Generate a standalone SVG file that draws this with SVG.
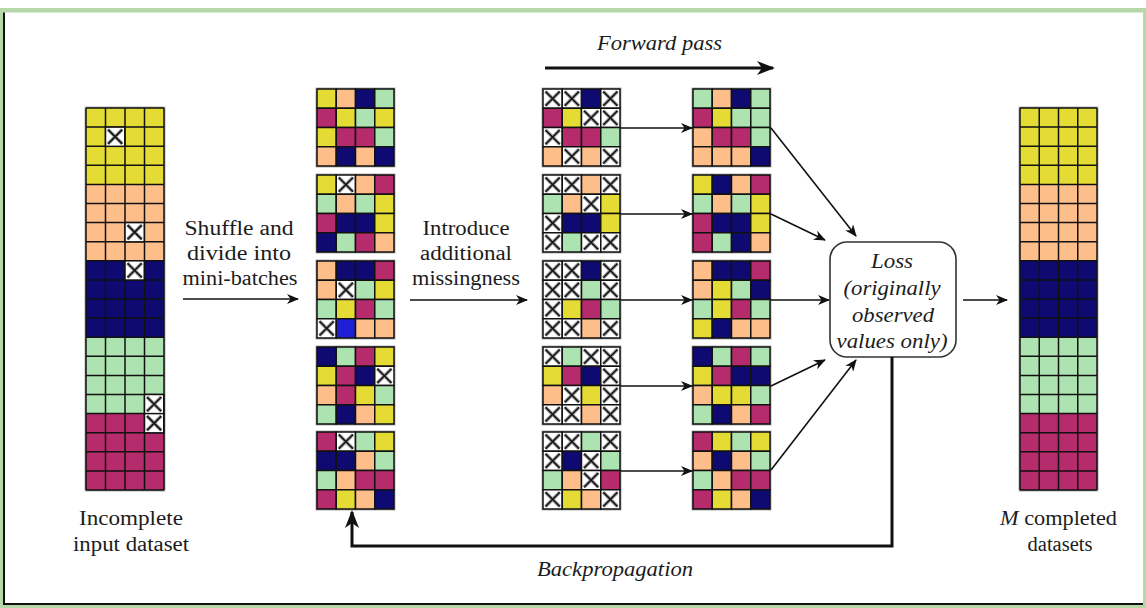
<svg xmlns="http://www.w3.org/2000/svg" xmlns:xlink="http://www.w3.org/1999/xlink" width="1146" height="608" viewBox="0 0 1146 608">
<style>
text{font-family:"Liberation Serif","Times New Roman",serif;font-size:20px;fill:#1c1c1c;text-anchor:middle}
.it{font-style:italic}
.ln{stroke:#111;stroke-width:1.6;fill:none}
.thk{stroke:#111;stroke-width:3;fill:none}
.halo{fill:none;stroke:#b0b0b0;stroke-width:3}
.gl{stroke:#111;stroke-width:1.5;fill:none}
</style>
<defs>
<rect id="Y" width="19.25" height="19.25" fill="#e4dc34" stroke="#111" stroke-width="1.5"/>
<rect id="O" width="19.25" height="19.25" fill="#fdbe8a" stroke="#111" stroke-width="1.5"/>
<rect id="N" width="19.25" height="19.25" fill="#0e0a72" stroke="#111" stroke-width="1.5"/>
<rect id="G" width="19.25" height="19.25" fill="#ade3b0" stroke="#111" stroke-width="1.5"/>
<rect id="M" width="19.25" height="19.25" fill="#b52b6b" stroke="#111" stroke-width="1.5"/>
<rect id="B" width="19.25" height="19.25" fill="#1f1fd6" stroke="#111" stroke-width="1.5"/>
<g id="X">
<rect width="19.25" height="19.25" fill="#fff" stroke="#111" stroke-width="1.5"/>
<path d="M2.5,2.5 L16.75,16.75 M16.75,2.5 L2.5,16.75" stroke="#9a9a9a" stroke-width="3.5"/>
<path d="M2.5,2.5 L16.75,16.75 M16.75,2.5 L2.5,16.75" stroke="#111" stroke-width="1.5"/>
</g>
<marker id="ah" viewBox="0 0 12 10" refX="11" refY="5" markerWidth="12" markerHeight="10" markerUnits="userSpaceOnUse" orient="auto">
<path d="M0,0 L12,5 L0,10 L3.5,5 z" fill="#111"/>
</marker>
<marker id="ahb" viewBox="0 0 18 14" refX="16" refY="7" markerWidth="18" markerHeight="14" markerUnits="userSpaceOnUse" orient="auto">
<path d="M0,0 L18,7 L0,14 L5,7 z" fill="#111"/>
</marker>
</defs>

<!-- frame -->
<rect x="0" y="8" width="1146" height="4.5" fill="#b6d7a8"/>
<rect x="0" y="8" width="3" height="600" fill="#b6d7a8"/>
<rect x="0" y="605" width="1146" height="3" fill="#b6d7a8"/>
<rect x="1143" y="8" width="3" height="600" fill="#b6d7a8"/>
<rect x="3" y="12.5" width="2" height="592.5" fill="#111"/>
<rect x="3" y="603" width="1140" height="2" fill="#111"/>

<!-- input dataset -->
<g id="input-dataset">
<rect class="halo" x="86" y="108" width="78" height="382"/>
<rect x="86" y="108" width="78" height="76.4" fill="#e4dc34"/>
<rect x="86" y="184.4" width="78" height="76.4" fill="#fdbe8a"/>
<rect x="86" y="260.8" width="78" height="76.4" fill="#0e0a72"/>
<rect x="86" y="337.2" width="78" height="76.4" fill="#ade3b0"/>
<rect x="86" y="413.6" width="78" height="76.4" fill="#b52b6b"/>
<path class="gl" d="M86,108V490M105.5,108V490M125,108V490M144.5,108V490M164,108V490M86,108H164M86,127.1H164M86,146.2H164M86,165.3H164M86,184.4H164M86,203.5H164M86,222.6H164M86,241.7H164M86,260.8H164M86,279.9H164M86,299H164M86,318.1H164M86,337.2H164M86,356.3H164M86,375.4H164M86,394.5H164M86,413.6H164M86,432.7H164M86,451.8H164M86,470.9H164M86,490H164"/>
<use href="#X" x="105.5" y="127.1"/>
<use href="#X" x="125" y="222.6"/>
<use href="#X" x="125" y="260.8"/>
<use href="#X" x="144.5" y="394.5"/>
<use href="#X" x="144.5" y="413.6"/>
<text x="131" y="525" textLength="104" lengthAdjust="spacingAndGlyphs">Incomplete</text>
<text x="131" y="551" textLength="116" lengthAdjust="spacingAndGlyphs">input dataset</text>
</g>

<!-- mini-batches -->
<g id="batch-1" transform="translate(317,89)">
<rect class="halo" width="77" height="77"/>
<use href="#Y" x="0" y="0"/><use href="#O" x="19.25" y="0"/><use href="#N" x="38.5" y="0"/><use href="#G" x="57.75" y="0"/>
<use href="#M" x="0" y="19.25"/><use href="#Y" x="19.25" y="19.25"/><use href="#G" x="38.5" y="19.25"/><use href="#Y" x="57.75" y="19.25"/>
<use href="#Y" x="0" y="38.5"/><use href="#M" x="19.25" y="38.5"/><use href="#M" x="38.5" y="38.5"/><use href="#G" x="57.75" y="38.5"/>
<use href="#O" x="0" y="57.75"/><use href="#N" x="19.25" y="57.75"/><use href="#O" x="38.5" y="57.75"/><use href="#N" x="57.75" y="57.75"/>
</g>
<g id="batch-2" transform="translate(317,175)">
<rect class="halo" width="77" height="77"/>
<use href="#Y" x="0" y="0"/><use href="#X" x="19.25" y="0"/><use href="#O" x="38.5" y="0"/><use href="#M" x="57.75" y="0"/>
<use href="#G" x="0" y="19.25"/><use href="#O" x="19.25" y="19.25"/><use href="#G" x="38.5" y="19.25"/><use href="#Y" x="57.75" y="19.25"/>
<use href="#M" x="0" y="38.5"/><use href="#N" x="19.25" y="38.5"/><use href="#N" x="38.5" y="38.5"/><use href="#Y" x="57.75" y="38.5"/>
<use href="#N" x="0" y="57.75"/><use href="#G" x="19.25" y="57.75"/><use href="#M" x="38.5" y="57.75"/><use href="#O" x="57.75" y="57.75"/>
</g>
<g id="batch-3" transform="translate(317,261)">
<rect class="halo" width="77" height="77"/>
<use href="#O" x="0" y="0"/><use href="#N" x="19.25" y="0"/><use href="#N" x="38.5" y="0"/><use href="#M" x="57.75" y="0"/>
<use href="#O" x="0" y="19.25"/><use href="#X" x="19.25" y="19.25"/><use href="#G" x="38.5" y="19.25"/><use href="#Y" x="57.75" y="19.25"/>
<use href="#G" x="0" y="38.5"/><use href="#Y" x="19.25" y="38.5"/><use href="#M" x="38.5" y="38.5"/><use href="#G" x="57.75" y="38.5"/>
<use href="#X" x="0" y="57.75"/><use href="#B" x="19.25" y="57.75"/><use href="#O" x="38.5" y="57.75"/><use href="#O" x="57.75" y="57.75"/>
</g>
<g id="batch-4" transform="translate(317,347)">
<rect class="halo" width="77" height="77"/>
<use href="#N" x="0" y="0"/><use href="#G" x="19.25" y="0"/><use href="#M" x="38.5" y="0"/><use href="#Y" x="57.75" y="0"/>
<use href="#Y" x="0" y="19.25"/><use href="#M" x="19.25" y="19.25"/><use href="#N" x="38.5" y="19.25"/><use href="#X" x="57.75" y="19.25"/>
<use href="#O" x="0" y="38.5"/><use href="#M" x="19.25" y="38.5"/><use href="#Y" x="38.5" y="38.5"/><use href="#G" x="57.75" y="38.5"/>
<use href="#G" x="0" y="57.75"/><use href="#N" x="19.25" y="57.75"/><use href="#O" x="38.5" y="57.75"/><use href="#Y" x="57.75" y="57.75"/>
</g>
<g id="batch-5" transform="translate(317,432)">
<rect class="halo" width="77" height="77"/>
<use href="#M" x="0" y="0"/><use href="#X" x="19.25" y="0"/><use href="#G" x="38.5" y="0"/><use href="#Y" x="57.75" y="0"/>
<use href="#N" x="0" y="19.25"/><use href="#N" x="19.25" y="19.25"/><use href="#O" x="38.5" y="19.25"/><use href="#G" x="57.75" y="19.25"/>
<use href="#G" x="0" y="38.5"/><use href="#O" x="19.25" y="38.5"/><use href="#M" x="38.5" y="38.5"/><use href="#M" x="57.75" y="38.5"/>
<use href="#M" x="0" y="57.75"/><use href="#Y" x="19.25" y="57.75"/><use href="#O" x="38.5" y="57.75"/><use href="#N" x="57.75" y="57.75"/>
</g>

<!-- additional missingness -->
<g id="masked-1" transform="translate(543,89)">
<rect class="halo" width="77" height="77"/>
<use href="#X" x="0" y="0"/><use href="#X" x="19.25" y="0"/><use href="#N" x="38.5" y="0"/><use href="#X" x="57.75" y="0"/>
<use href="#M" x="0" y="19.25"/><use href="#Y" x="19.25" y="19.25"/><use href="#X" x="38.5" y="19.25"/><use href="#X" x="57.75" y="19.25"/>
<use href="#X" x="0" y="38.5"/><use href="#M" x="19.25" y="38.5"/><use href="#M" x="38.5" y="38.5"/><use href="#G" x="57.75" y="38.5"/>
<use href="#O" x="0" y="57.75"/><use href="#X" x="19.25" y="57.75"/><use href="#O" x="38.5" y="57.75"/><use href="#X" x="57.75" y="57.75"/>
</g>
<g id="masked-2" transform="translate(543,175)">
<rect class="halo" width="77" height="77"/>
<use href="#X" x="0" y="0"/><use href="#X" x="19.25" y="0"/><use href="#O" x="38.5" y="0"/><use href="#X" x="57.75" y="0"/>
<use href="#G" x="0" y="19.25"/><use href="#O" x="19.25" y="19.25"/><use href="#X" x="38.5" y="19.25"/><use href="#Y" x="57.75" y="19.25"/>
<use href="#X" x="0" y="38.5"/><use href="#N" x="19.25" y="38.5"/><use href="#N" x="38.5" y="38.5"/><use href="#Y" x="57.75" y="38.5"/>
<use href="#X" x="0" y="57.75"/><use href="#G" x="19.25" y="57.75"/><use href="#X" x="38.5" y="57.75"/><use href="#X" x="57.75" y="57.75"/>
</g>
<g id="masked-3" transform="translate(543,261)">
<rect class="halo" width="77" height="77"/>
<use href="#X" x="0" y="0"/><use href="#X" x="19.25" y="0"/><use href="#N" x="38.5" y="0"/><use href="#X" x="57.75" y="0"/>
<use href="#X" x="0" y="19.25"/><use href="#X" x="19.25" y="19.25"/><use href="#G" x="38.5" y="19.25"/><use href="#X" x="57.75" y="19.25"/>
<use href="#X" x="0" y="38.5"/><use href="#Y" x="19.25" y="38.5"/><use href="#M" x="38.5" y="38.5"/><use href="#G" x="57.75" y="38.5"/>
<use href="#X" x="0" y="57.75"/><use href="#X" x="19.25" y="57.75"/><use href="#O" x="38.5" y="57.75"/><use href="#X" x="57.75" y="57.75"/>
</g>
<g id="masked-4" transform="translate(543,347)">
<rect class="halo" width="77" height="77"/>
<use href="#X" x="0" y="0"/><use href="#G" x="19.25" y="0"/><use href="#X" x="38.5" y="0"/><use href="#X" x="57.75" y="0"/>
<use href="#Y" x="0" y="19.25"/><use href="#M" x="19.25" y="19.25"/><use href="#N" x="38.5" y="19.25"/><use href="#X" x="57.75" y="19.25"/>
<use href="#O" x="0" y="38.5"/><use href="#X" x="19.25" y="38.5"/><use href="#Y" x="38.5" y="38.5"/><use href="#X" x="57.75" y="38.5"/>
<use href="#X" x="0" y="57.75"/><use href="#X" x="19.25" y="57.75"/><use href="#O" x="38.5" y="57.75"/><use href="#X" x="57.75" y="57.75"/>
</g>
<g id="masked-5" transform="translate(543,432)">
<rect class="halo" width="77" height="77"/>
<use href="#X" x="0" y="0"/><use href="#X" x="19.25" y="0"/><use href="#G" x="38.5" y="0"/><use href="#X" x="57.75" y="0"/>
<use href="#X" x="0" y="19.25"/><use href="#N" x="19.25" y="19.25"/><use href="#X" x="38.5" y="19.25"/><use href="#G" x="57.75" y="19.25"/>
<use href="#G" x="0" y="38.5"/><use href="#O" x="19.25" y="38.5"/><use href="#X" x="38.5" y="38.5"/><use href="#M" x="57.75" y="38.5"/>
<use href="#X" x="0" y="57.75"/><use href="#Y" x="19.25" y="57.75"/><use href="#O" x="38.5" y="57.75"/><use href="#X" x="57.75" y="57.75"/>
</g>

<!-- imputed outputs -->
<g id="imputed-1" transform="translate(693,89)">
<rect class="halo" width="77" height="77"/>
<use href="#G" x="0" y="0"/><use href="#O" x="19.25" y="0"/><use href="#N" x="38.5" y="0"/><use href="#G" x="57.75" y="0"/>
<use href="#M" x="0" y="19.25"/><use href="#Y" x="19.25" y="19.25"/><use href="#G" x="38.5" y="19.25"/><use href="#G" x="57.75" y="19.25"/>
<use href="#O" x="0" y="38.5"/><use href="#M" x="19.25" y="38.5"/><use href="#M" x="38.5" y="38.5"/><use href="#G" x="57.75" y="38.5"/>
<use href="#O" x="0" y="57.75"/><use href="#O" x="19.25" y="57.75"/><use href="#O" x="38.5" y="57.75"/><use href="#N" x="57.75" y="57.75"/>
</g>
<g id="imputed-2" transform="translate(693,175)">
<rect class="halo" width="77" height="77"/>
<use href="#Y" x="0" y="0"/><use href="#N" x="19.25" y="0"/><use href="#O" x="38.5" y="0"/><use href="#M" x="57.75" y="0"/>
<use href="#G" x="0" y="19.25"/><use href="#O" x="19.25" y="19.25"/><use href="#G" x="38.5" y="19.25"/><use href="#Y" x="57.75" y="19.25"/>
<use href="#M" x="0" y="38.5"/><use href="#N" x="19.25" y="38.5"/><use href="#N" x="38.5" y="38.5"/><use href="#Y" x="57.75" y="38.5"/>
<use href="#M" x="0" y="57.75"/><use href="#G" x="19.25" y="57.75"/><use href="#N" x="38.5" y="57.75"/><use href="#O" x="57.75" y="57.75"/>
</g>
<g id="imputed-3" transform="translate(693,261)">
<rect class="halo" width="77" height="77"/>
<use href="#O" x="0" y="0"/><use href="#N" x="19.25" y="0"/><use href="#N" x="38.5" y="0"/><use href="#M" x="57.75" y="0"/>
<use href="#O" x="0" y="19.25"/><use href="#Y" x="19.25" y="19.25"/><use href="#G" x="38.5" y="19.25"/><use href="#N" x="57.75" y="19.25"/>
<use href="#G" x="0" y="38.5"/><use href="#Y" x="19.25" y="38.5"/><use href="#M" x="38.5" y="38.5"/><use href="#G" x="57.75" y="38.5"/>
<use href="#Y" x="0" y="57.75"/><use href="#N" x="19.25" y="57.75"/><use href="#O" x="38.5" y="57.75"/><use href="#O" x="57.75" y="57.75"/>
</g>
<g id="imputed-4" transform="translate(693,347)">
<rect class="halo" width="77" height="77"/>
<use href="#N" x="0" y="0"/><use href="#G" x="19.25" y="0"/><use href="#M" x="38.5" y="0"/><use href="#G" x="57.75" y="0"/>
<use href="#Y" x="0" y="19.25"/><use href="#M" x="19.25" y="19.25"/><use href="#N" x="38.5" y="19.25"/><use href="#N" x="57.75" y="19.25"/>
<use href="#O" x="0" y="38.5"/><use href="#Y" x="19.25" y="38.5"/><use href="#Y" x="38.5" y="38.5"/><use href="#G" x="57.75" y="38.5"/>
<use href="#G" x="0" y="57.75"/><use href="#N" x="19.25" y="57.75"/><use href="#O" x="38.5" y="57.75"/><use href="#M" x="57.75" y="57.75"/>
</g>
<g id="imputed-5" transform="translate(693,432)">
<rect class="halo" width="77" height="77"/>
<use href="#M" x="0" y="0"/><use href="#Y" x="19.25" y="0"/><use href="#G" x="38.5" y="0"/><use href="#Y" x="57.75" y="0"/>
<use href="#O" x="0" y="19.25"/><use href="#N" x="19.25" y="19.25"/><use href="#O" x="38.5" y="19.25"/><use href="#G" x="57.75" y="19.25"/>
<use href="#G" x="0" y="38.5"/><use href="#O" x="19.25" y="38.5"/><use href="#M" x="38.5" y="38.5"/><use href="#M" x="57.75" y="38.5"/>
<use href="#M" x="0" y="57.75"/><use href="#Y" x="19.25" y="57.75"/><use href="#O" x="38.5" y="57.75"/><use href="#N" x="57.75" y="57.75"/>
</g>

<!-- loss -->
<g id="loss">
<rect x="830" y="242" width="126" height="115" rx="17" fill="#fff" stroke="#333" stroke-width="1.6"/>
<text class="it" x="892" y="268" textLength="42" lengthAdjust="spacingAndGlyphs">Loss</text>
<text class="it" x="892" y="295" textLength="97" lengthAdjust="spacingAndGlyphs">(originally</text>
<text class="it" x="893" y="322" textLength="82" lengthAdjust="spacingAndGlyphs">observed</text>
<text class="it" x="892" y="348" textLength="111" lengthAdjust="spacingAndGlyphs">values only)</text>
</g>

<!-- completed datasets -->
<g id="completed-datasets">
<rect class="halo" x="1020" y="108" width="77" height="382"/>
<rect x="1020" y="108" width="77" height="76.4" fill="#e4dc34"/>
<rect x="1020" y="184.4" width="77" height="76.4" fill="#fdbe8a"/>
<rect x="1020" y="260.8" width="77" height="76.4" fill="#0e0a72"/>
<rect x="1020" y="337.2" width="77" height="76.4" fill="#ade3b0"/>
<rect x="1020" y="413.6" width="77" height="76.4" fill="#b52b6b"/>
<path class="gl" d="M1020,108V490M1039.25,108V490M1058.5,108V490M1077.75,108V490M1097,108V490M1020,108H1097M1020,127.1H1097M1020,146.2H1097M1020,165.3H1097M1020,184.4H1097M1020,203.5H1097M1020,222.6H1097M1020,241.7H1097M1020,260.8H1097M1020,279.9H1097M1020,299H1097M1020,318.1H1097M1020,337.2H1097M1020,356.3H1097M1020,375.4H1097M1020,394.5H1097M1020,413.6H1097M1020,432.7H1097M1020,451.8H1097M1020,470.9H1097M1020,490H1097"/>
<text x="1058.5" y="525" textLength="117" lengthAdjust="spacingAndGlyphs"><tspan class="it">M</tspan> completed</text>
<text x="1060" y="551" textLength="65" lengthAdjust="spacingAndGlyphs">datasets</text>
</g>

<!-- labels -->
<g id="labels">
<text x="239" y="235" textLength="109" lengthAdjust="spacingAndGlyphs">Shuffle and</text>
<text x="239" y="260" textLength="104" lengthAdjust="spacingAndGlyphs">divide into</text>
<text x="240" y="285" textLength="115" lengthAdjust="spacingAndGlyphs">mini-batches</text>
<text x="466" y="235" textLength="87" lengthAdjust="spacingAndGlyphs">Introduce</text>
<text x="466" y="260" textLength="92" lengthAdjust="spacingAndGlyphs">additional</text>
<text x="466" y="285" textLength="108" lengthAdjust="spacingAndGlyphs">missingness</text>
<text class="it" x="659.5" y="50" textLength="125" lengthAdjust="spacingAndGlyphs">Forward pass</text>
<text class="it" x="615" y="576" textLength="156" lengthAdjust="spacingAndGlyphs">Backpropagation</text>
</g>

<!-- connectors -->
<g id="connectors">
<line class="ln" x1="183" y1="299" x2="298" y2="299" stroke-width="2" marker-end="url(#ah)"/>
<line class="ln" x1="410" y1="300" x2="527" y2="300" stroke-width="2" marker-end="url(#ah)"/>
<line class="thk" x1="545" y1="68" x2="773" y2="68" marker-end="url(#ahb)"/>
<line class="ln" x1="621" y1="128" x2="692" y2="128" marker-end="url(#ah)"/>
<line class="ln" x1="621" y1="214" x2="692" y2="214" marker-end="url(#ah)"/>
<line class="ln" x1="621" y1="300" x2="692" y2="300" marker-end="url(#ah)"/>
<line class="ln" x1="621" y1="386" x2="692" y2="386" marker-end="url(#ah)"/>
<line class="ln" x1="621" y1="471" x2="692" y2="471" marker-end="url(#ah)"/>
<line class="ln" x1="771" y1="128" x2="856" y2="236" marker-end="url(#ah)"/>
<line class="ln" x1="771" y1="214" x2="825" y2="240" marker-end="url(#ah)"/>
<line class="ln" x1="771" y1="300" x2="829" y2="300" marker-end="url(#ah)"/>
<line class="ln" x1="771" y1="386" x2="825" y2="360" marker-end="url(#ah)"/>
<line class="ln" x1="771" y1="470" x2="856" y2="360" marker-end="url(#ah)"/>
<line class="ln" x1="963" y1="300" x2="1007" y2="300" stroke-width="2" marker-end="url(#ah)"/>
<path class="thk" d="M892,357 V546 H352 V512" marker-end="url(#ahb)"/>
</g>
</svg>
